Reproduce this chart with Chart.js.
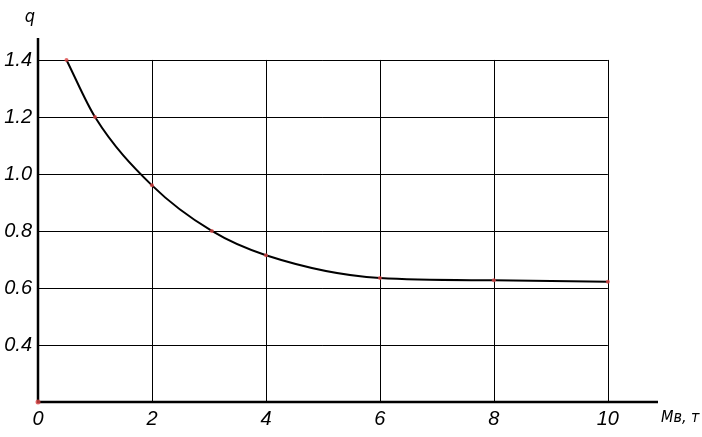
<!DOCTYPE html>
<html>
<head>
<meta charset="utf-8">
<script src="https://cdn.jsdelivr.net/npm/chart.js"></script>
<style>
  html, body { margin: 0; padding: 0; background: #fff; }
  #wrap { width: 702px; height: 437px; }
</style>
</head>
<body>
<div id="wrap"><canvas id="qChart"></canvas></div>
<script>
  // curve q(Mв)
  const mValues = [0.5, 1, 2, 3.05, 4, 6, 8, 10];
  const qValues = [1.4, 1.2, 0.96, 0.8, 0.715, 0.635, 0.627, 0.622];

  // tick positions and labels
  const xTicks = [0, 2, 4, 6, 8, 10];
  const xTickLabels = ['0', '2', '4', '6', '8', '10'];
  const yTicks = [0.4, 0.6, 0.8, 1.0, 1.2, 1.4];
  const yTickLabels = ['0.4', '0.6', '0.8', '1.0', '1.2', '1.4'];

  const xTitle = 'Mв, т';
  const yTitle = 'q';

  const fontFamily = '"Liberation Sans", Arial, sans-serif';
  const titleFamily = '"DejaVu Sans Condensed", "DejaVu Sans", sans-serif';
  const tickFont = { family: fontFamily, size: 20, style: 'italic', weight: 'normal' };

  // grid box only up to the last tick, axes run a bit further
  const gridPlugin = {
    id: 'gridPlugin',
    beforeDatasetsDraw(chart) {
      const c = chart.ctx, x = chart.scales.x, y = chart.scales.y;
      const x0 = x.getPixelForValue(0), x1 = x.getPixelForValue(xTicks[xTicks.length - 1]);
      const y0 = y.getPixelForValue(0.2), y1 = y.getPixelForValue(yTicks[yTicks.length - 1]);
      c.save();
      c.strokeStyle = '#000';
      c.lineWidth = 1;
      c.beginPath();
      yTicks.forEach(v => {
        const py = Math.round(y.getPixelForValue(v)) + 0.5;
        c.moveTo(x0, py); c.lineTo(x1, py);
      });
      xTicks.slice(1).forEach(v => {
        const px = Math.round(x.getPixelForValue(v)) + 0.5;
        c.moveTo(px, y0); c.lineTo(px, y1);
      });
      c.stroke();
      // axes
      c.lineWidth = 2.5;
      c.beginPath();
      c.moveTo(x0, chart.chartArea.top); c.lineTo(x0, y0);
      c.lineTo(chart.chartArea.right, y0);
      c.stroke();
      c.restore();
    },
    afterDraw(chart) {
      const c = chart.ctx, a = chart.chartArea;
      c.save();
      c.fillStyle = '#000';
      c.font = 'italic 16px ' + titleFamily;
      c.textBaseline = 'middle';
      c.textAlign = 'left';
      c.fillText(xTitle, a.right + 3, a.bottom + 16);
      c.font = 'italic 18px ' + titleFamily;
      c.textAlign = 'center';
      c.fillText(yTitle, a.left - 8, 17);
      c.restore();
    }
  };

  new Chart(document.getElementById('qChart'), {
    type: 'line',
    data: {
      datasets: [{
        data: mValues.map((m, i) => ({ x: m, y: qValues[i] })),
        borderColor: '#000',
        borderWidth: 2,
        cubicInterpolationMode: 'monotone',
        pointRadius: 2,
        pointBorderWidth: 0,
        pointBackgroundColor: 'rgba(220,70,70,0.8)',
        clip: false
      }, {
        data: [{ x: 0, y: 0.2 }],
        showLine: false,
        pointRadius: 2.5,
        pointBorderWidth: 0,
        pointBackgroundColor: 'rgba(220,70,70,0.8)',
        clip: false
      }]
    },
    options: {
      responsive: true,
      maintainAspectRatio: false,
      animation: false,
      layout: { padding: { top: 38, right: 44, left: 0, bottom: 0 } },
      plugins: { legend: { display: false }, tooltip: { enabled: false } },
      scales: {
        x: {
          type: 'linear',
          min: 0,
          max: 10.88,
          grid: { display: false, drawTicks: false },
          border: { display: false },
          afterBuildTicks: s => { s.ticks = xTicks.map(v => ({ value: v })); },
          afterFit: s => { s.height = 35; },
          ticks: {
            color: '#000',
            font: tickFont,
            padding: 5,
            maxRotation: 0,
            autoSkip: false,
            callback: v => xTickLabels[xTicks.indexOf(v)]
          }
        },
        y: {
          min: 0.2,
          max: 1.477,
          grid: { display: false, drawTicks: false },
          border: { display: false },
          afterBuildTicks: s => { s.ticks = yTicks.map(v => ({ value: v })); },
          afterFit: s => { s.width = 38; },
          ticks: {
            color: '#000',
            font: tickFont,
            padding: 6,
            autoSkip: false,
            callback: v => yTickLabels[yTicks.findIndex(t => Math.abs(t - v) < 1e-6)]
          }
        }
      }
    },
    plugins: [gridPlugin]
  });
</script>
</body>
</html>
